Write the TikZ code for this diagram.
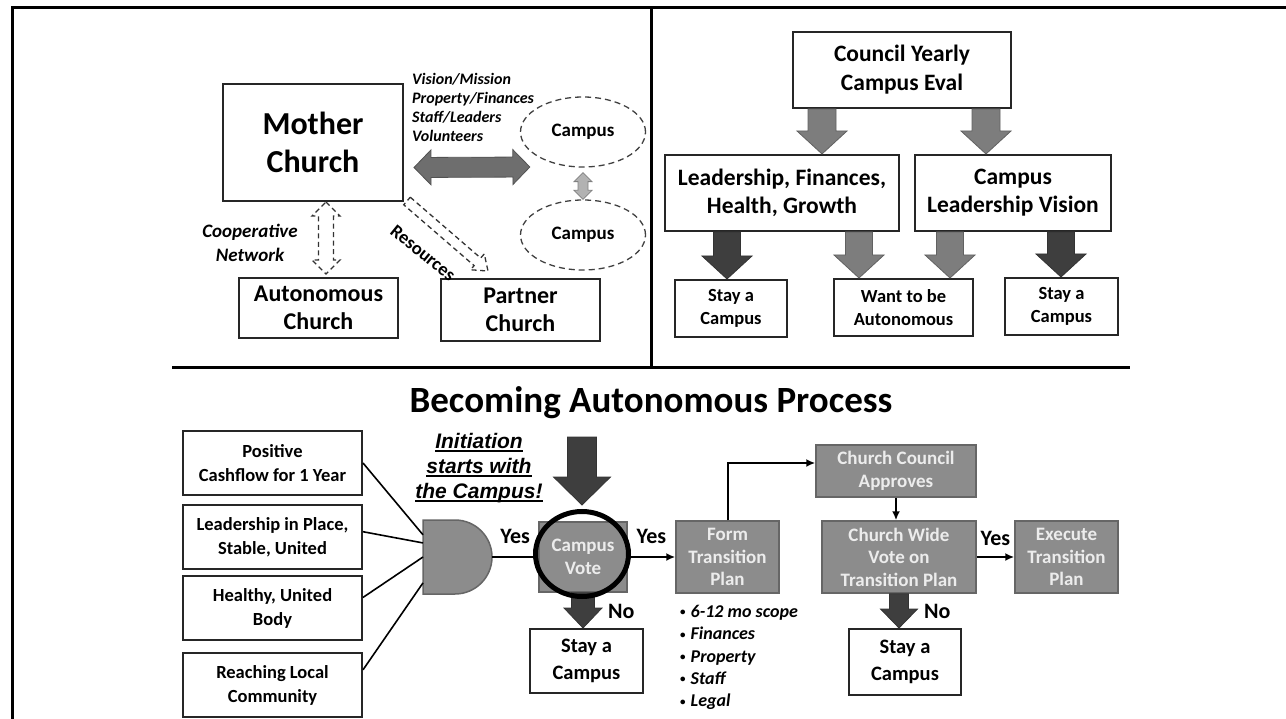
\documentclass[tikz,border=0pt]{standalone}
\usepackage{fontspec}
\setmainfont{Carlito}
\newfontfamily\arialfont{Liberation Sans}
\usetikzlibrary{arrows.meta,positioning,calc,shapes.geometric}

\definecolor{darkarrow}{RGB}{62,62,62}
\definecolor{midarrow}{RGB}{125,125,125}
\definecolor{boxgray}{RGB}{140,140,140}
\definecolor{boxtext}{RGB}{236,236,236}
\definecolor{lightarrow}{RGB}{178,178,178}

\newcommand{\fsz}[2]{\fontsize{#1}{#2}\selectfont}
\newsavebox{\ulbox}
\newcommand{\ulin}[1]{\sbox{\ulbox}{#1}\rlap{\rule[-3.5pt]{\wd\ulbox}{1.6pt}}\usebox{\ulbox}}
\newcommand{\dotitem}{\textup{\raisebox{1.5pt}{\fsz{11}{11}\textbullet}}\hspace{5pt}}

% block arrow: start, tip, shaft half width, head half width, head length
\newcommand{\blockarrow}[6][]{%
	\coordinate (ba-q) at ($(#3)!#6!(#2)$);
	\draw[#1] ($(#2)!#4!90:(#3)$) -- ($(ba-q)!#4!90:(#3)$) -- ($(ba-q)!#5!90:(#3)$) -- (#3)
	-- ($(ba-q)!#5!-90:(#3)$) -- ($(ba-q)!#4!-90:(#3)$) -- ($(#2)!#4!-90:(#3)$) -- cycle;
}
% same with a head at both ends
\newcommand{\twowayarrow}[6][]{%
	\coordinate (da-p) at ($(#2)!#6!(#3)$);
	\coordinate (da-q) at ($(#3)!#6!(#2)$);
	\draw[#1] (#2) -- ($(da-p)!#5!90:(#3)$) -- ($(da-p)!#4!90:(#3)$) -- ($(da-q)!#4!90:(#3)$)
	-- ($(da-q)!#5!90:(#3)$) -- (#3) -- ($(da-q)!#5!-90:(#3)$) -- ($(da-q)!#4!-90:(#3)$)
	-- ($(da-p)!#4!-90:(#3)$) -- ($(da-p)!#5!-90:(#3)$) -- cycle;
}

\tikzset{
	>=Latex,
	box/.style={
		draw=black!85,
		line width=2pt,
		fill=white,
		inner sep=0pt,
		align=center,
		font=\bfseries
	},
	graybox/.style={
		draw=black!60,
		line width=1.5pt,
		fill=boxgray,
		text=boxtext,
		inner sep=0pt,
		align=center,
		font=\fsz{19}{22.5}\bfseries
	},
	campus/.style={
		ellipse,
		draw=black!75,
		line width=1.3pt,
		dash pattern=on 6pt off 4pt,
		inner sep=0pt,
		minimum width=125pt,
		minimum height=70pt,
		font=\fsz{19}{22}\bfseries
	},
	cond/.style={
		box,
		minimum width=179pt,
		minimum height=64pt,
		font=\fsz{18.5}{24}\bfseries
	},
	hollow/.style={draw=black!80,fill=white,line width=1.3pt,dash pattern=on 5pt off 3.5pt},
	darkblock/.style={fill=darkarrow,draw=black!80,line width=0.8pt},
	midblock/.style={fill=midarrow,draw=black!62,line width=0.8pt},
	conn/.style={
		-{Latex[length=9pt,width=8pt]},
		line width=2pt
	},
	wire/.style={line width=1.6pt},
	answer/.style={inner sep=0pt,font=\fsz{22}{24}\bfseries},
	frame/.style={line width=3pt,black}
}

\begin{document}
\begin{tikzpicture}[x=1pt,y=-1pt]
	\useasboundingbox (0,0) rectangle (1286,719);
	
	% Frame and separators
	\draw[frame] (12,719) -- (12,8) -- (1290,8);
	\draw[frame] (651,8) -- (651,368);
	\draw[frame] (172,368) -- (1130,368);
	
	% Mother church and campuses
	\node[box,minimum width=180pt,minimum height=117pt,font=\fsz{32}{38}\bfseries] (mother) at (313,142.5) {Mother\\Church};
	\node[campus] (campusA) at (583,132) {Campus};
	\node[campus] (campusB) at (583,235) {Campus};
	\node[box,minimum width=159pt,minimum height=60pt,font=\fsz{24}{28}\bfseries] (auto) at (318.5,308) {Autonomous\\Church};
	\node[box,minimum width=159pt,minimum height=62pt,font=\fsz{24}{28}\bfseries] (partner) at (520.5,310) {Partner\\Church};
	
	\node[anchor=west,align=left,inner sep=0pt,font=\fsz{16}{19}\bfseries\itshape] (share) at (412,107) {Vision/Mission\\Property/Finances\\Staff/Leaders\\Volunteers};
	\node[align=center,inner sep=0pt,font=\fsz{19}{24}\bfseries\itshape] (coop) at (250,243) {Cooperative\\Network};
	
	% Links of the mother church
	\coordinate (shareL) at ($(mother.east)+(10,25)$);
	\coordinate (shareR) at ($(campusA.west)+(10,35)$);
	\twowayarrow[fill=black!57,draw=black!68,line width=0.8pt]{shareL}{shareR}{10pt}{17.5pt}{17pt}
	
	\coordinate (campA) at ($(campusA.south)+(0,5)$);
	\coordinate (campB) at (campusB.north);
	\twowayarrow[fill=lightarrow,draw=black!50,line width=0.8pt]{campA}{campB}{5pt}{9pt}{9pt}
	
	\coordinate (coopA) at ($(mother.south)+(13,0)$);
	\coordinate (coopB) at ($(coopA |- auto.north)+(0,-3)$);
	\twowayarrow[hollow]{coopA}{coopB}{7.5pt}{14pt}{14pt}
	
	\coordinate (resA) at ($(mother.south east)+(3,-1)$);
	\coordinate (resB) at ($(partner.north west)+(48,-7)$);
	\blockarrow[hollow]{resA}{resB}{5pt}{10.5pt}{14pt}
	\node[rotate=-39,inner sep=0pt,font=\fsz{18.5}{22}\bfseries] (res) at (423,253) {Resources};
	
	% Yearly evaluation
	\node[box,minimum width=218pt,minimum height=76pt,font=\fsz{23.5}{29}\bfseries] (council) at (902,70) {Council Yearly\\Campus Eval};
	\node[box,minimum width=234pt,minimum height=76pt,font=\fsz{23.5}{28}\bfseries] (health) at (782,193) {Leadership, Finances,\\Health, Growth};
	\node[box,minimum width=196pt,minimum height=76pt,font=\fsz{23.5}{28}\bfseries] (vision) at (1013,193) {Campus\\Leadership Vision};
	\node[box,minimum width=112pt,minimum height=57pt,font=\fsz{18.5}{23}\bfseries] (stayA) at (731,308.5) {Stay a\\Campus};
	\node[box,minimum width=139pt,minimum height=57pt,font=\fsz{18.5}{23}\bfseries] (want) at (903.5,307.5) {Want to be\\Autonomous};
	\node[box,minimum width=113pt,minimum height=57pt,font=\fsz{18.5}{23}\bfseries] (stayB) at (1061.5,306.5) {Stay a\\Campus};
	
	\coordinate (evalL) at ($(council.south)+(-80,0)$);
	\coordinate (evalLb) at (evalL |- health.north);
	\coordinate (evalR) at ($(council.south)+(84,0)$);
	\coordinate (evalRb) at (evalR |- vision.north);
	\blockarrow[midblock]{evalL}{evalLb}{14pt}{25pt}{23pt}
	\blockarrow[midblock]{evalR}{evalRb}{14pt}{25pt}{23pt}
	
	\coordinate (hsA) at ($(health.south)+(-55,0)$);
	\coordinate (hsAb) at (hsA |- stayA.north);
	\coordinate (hwA) at ($(health.south)+(77,0)$);
	\coordinate (hwAb) at (hwA |- want.north);
	\coordinate (vwA) at ($(vision.south)+(-63,0)$);
	\coordinate (vwAb) at (vwA |- want.north);
	\coordinate (vsA) at ($(vision.south)+(48,0)$);
	\coordinate (vsAb) at (vsA |- stayB.north);
	\blockarrow[darkblock]{hsA}{hsAb}{13.5pt}{25pt}{23pt}
	\blockarrow[midblock]{hwA}{hwAb}{13.5pt}{25pt}{23pt}
	\blockarrow[midblock]{vwA}{vwAb}{13.5pt}{25pt}{23pt}
	\blockarrow[darkblock]{vsA}{vsAb}{13.5pt}{25pt}{23pt}
	
	% Becoming autonomous process
	\node[anchor=base,inner sep=0pt,font=\fsz{37}{42}\bfseries] (title) at (651,413) {Becoming Autonomous Process};
	
	\node[cond] (cash) at (272.5,463) {Positive\\Cashflow for 1 Year};
	\node[cond] (lead) at (272.5,537) {Leadership in Place,\\Stable, United};
	\node[cond] (body) at (272.5,608) {Healthy, United\\Body};
	\node[cond] (reach) at (272.5,685) {Reaching Local\\Community};
	
	\node[minimum width=69pt,minimum height=74pt,inner sep=0pt,outer sep=0pt] (gate) at (457.5,557) {};
	\draw[fill=boxgray,draw=black!60,line width=1.5pt] (gate.north west) -- ($(gate.north east)+(-37,0)$)
	arc[start angle=90,end angle=-90,radius=37pt] -- (gate.south west) -- cycle;
	
	\draw[wire] (cash.east) -- ($(gate.north west)!0.2!(gate.south west)$);
	\draw[wire] ($(lead.north east)!0.42!(lead.south east)$) -- ($(gate.north west)!0.31!(gate.south west)$);
	\draw[wire] ($(body.north east)!0.34!(body.south east)$) -- ($(gate.north west)!0.5!(gate.south west)$);
	\draw[wire] ($(reach.north east)!0.27!(reach.south east)$) -- ($(gate.north west)!0.85!(gate.south west)$);
	
	\node[graybox,minimum width=88pt,minimum height=70pt] (vote) at (583,557) {Campus\\Vote};
	\draw[line width=2pt] (gate.east) -- (vote.west) node[answer,midway,above=12pt] {Yes};
	
	\node[box,minimum width=113pt,minimum height=64pt,font=\fsz{20.5}{27}\bfseries] (stayC) at (586.5,661) {Stay a\\Campus};
	\coordinate (voteNo) at (vote.south |- stayC.north);
	\blockarrow[darkblock]{vote.south}{voteNo}{11.5pt}{19pt}{20pt}
	\node[answer,anchor=base west] (noA) at ($(vote.south)+(25,26)$) {No};
	
	\node[ellipse,draw,line width=5pt,minimum width=93pt,minimum height=85pt,inner sep=0pt] (ring) at (582,554) {};
	\coordinate (initTop) at ($(ring.north)+(0,-72)$);
	\coordinate (initTip) at ($(ring.north)+(0,-4)$);
	\blockarrow[darkblock]{initTop}{initTip}{14.5pt}{28.5pt}{28pt}
	\node[align=center,inner sep=0pt,font=\arialfont\fsz{21}{25}\bfseries\itshape] (init) at (479,468) {\ulin{Initiation}\\\ulin{starts with}\\\ulin{the Campus!}};
	
	\node[graybox,minimum width=103pt,minimum height=72pt] (form) at (727.5,557) {Form\\Transition\\Plan};
	\node[graybox,minimum width=160pt,minimum height=52pt] (approve) at (896,471) {Church Council\\Approves};
	\node[graybox,minimum width=154pt,minimum height=72pt] (wide) at (899,557) {Church Wide\\Vote on\\Transition Plan};
	\node[graybox,minimum width=103pt,minimum height=72pt] (exec) at (1066.5,557) {Execute\\Transition\\Plan};
	
	\draw[conn] (vote.east) -- (form.west) node[answer,midway,above=12pt] {Yes};
	\draw[conn] (form.north) |- ($(approve.west)+(0,-8)$);
	\draw[conn] (approve.south) -- (approve.south |- wide.north);
	\draw[conn] (wide.east) -- (exec.west) node[answer,midway,above=10pt] {Yes};
	
	\node[anchor=north west,align=left,inner sep=0pt,font=\fsz{18}{22.3}\bfseries\itshape] (scope) at (680,605)
	{\dotitem 6-12 mo scope\\\dotitem Finances\\\dotitem Property\\\dotitem Staff\\\dotitem Legal};
	
	\node[box,minimum width=112pt,minimum height=66pt,font=\fsz{20.5}{27}\bfseries] (stayD) at (905,662) {Stay a\\Campus};
	\coordinate (wideNo) at (wide.south |- stayD.north);
	\blockarrow[darkblock]{wide.south}{wideNo}{9.5pt}{18.5pt}{19pt}
	\node[answer,anchor=base west] (noB) at ($(wide.south)+(25,25)$) {No};
	
\end{tikzpicture}
\end{document}
